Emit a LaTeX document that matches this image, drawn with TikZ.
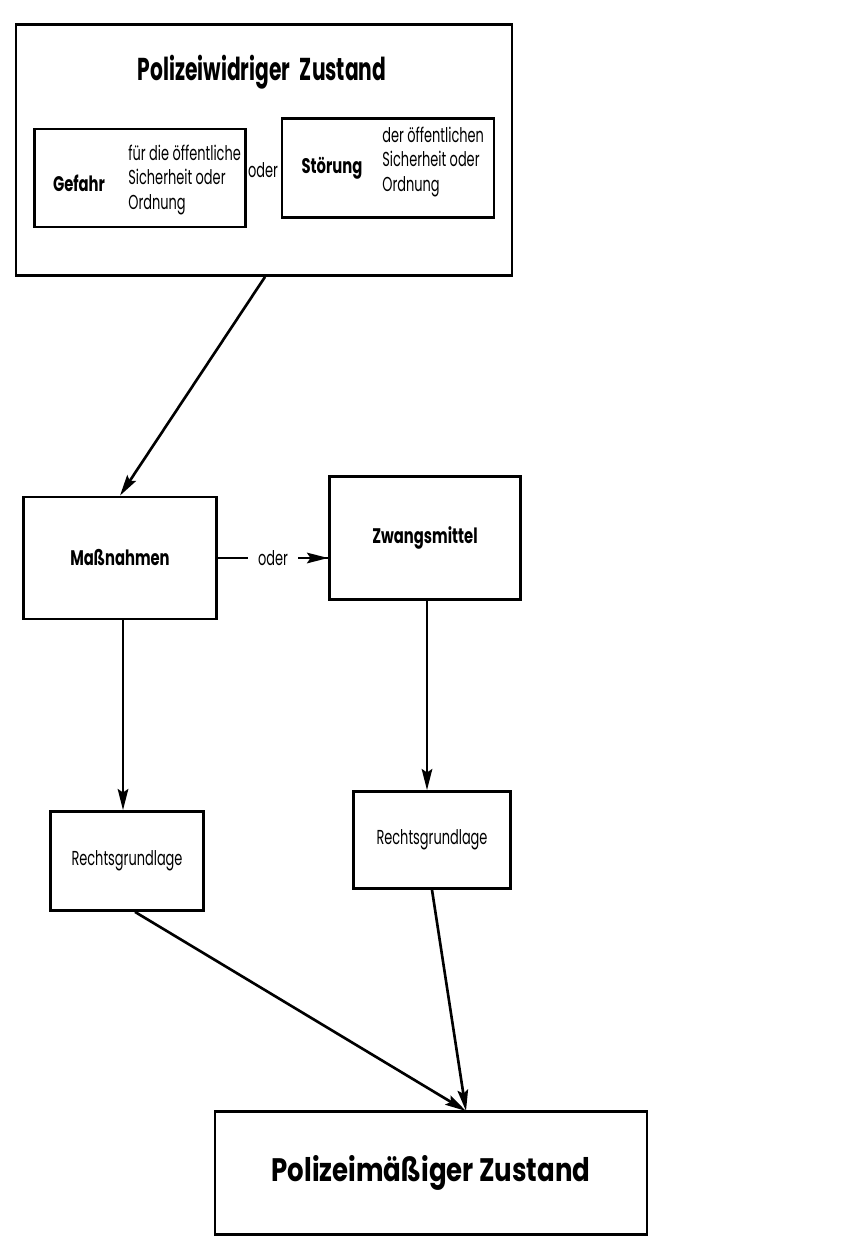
\documentclass[tikz,border=0pt]{standalone}
\usepackage{fontspec}
\setmainfont{Poppins}[FakeStretch=0.8]
\newfontfamily\fReg{Poppins}[FakeStretch=0.64]
\newfontfamily\fMid{Poppins}[FakeStretch=0.7]
\newfontfamily\fHead{Poppins}[FakeStretch=0.64]
\usetikzlibrary{arrows.meta}
\begin{document}
\begin{tikzpicture}[x=0.02cm,y=-0.02cm,
  frame/.style={draw,line width=1.6pt,inner sep=0pt},
  conn/.style={line width=1.5pt,-{Stealth[length=12pt,width=6pt,inset=2pt]}},
  head/.style={font=\fHead\bfseries\fontsize{18}{22}\selectfont},
  big/.style={font=\bfseries\fontsize{18.5}{22}\selectfont},
  mid/.style={font=\fMid\bfseries\fontsize{12}{14}\selectfont},
  reg/.style={font=\fReg\fontsize{11.5}{13.5}\selectfont},
  small/.style={font=\fReg\fontsize{11.5}{13.8}\selectfont,align=left,inner sep=0pt}]
\useasboundingbox (0,0) rectangle (854,1245);
% upper frame with its two alternatives
\node[frame,minimum width=9.92cm,minimum height=5.02cm] (zust) at (264,150) {};
\node[head] (ztitle) at (262,72) {Polizeiwidriger\, Zustand};
\node[frame,minimum width=4.22cm,minimum height=1.96cm] (gef) at (140,178) {};
\node[mid] (geft) at (79,183) {Gefahr};
\node[small,anchor=west] (gefs) at (128,180) {für die öffentliche\\Sicherheit oder\\Ordnung};
\node[reg] (or1) at (263,170) {oder};
\node[frame,minimum width=4.24cm,minimum height=1.98cm] (stoe) at (388,168) {};
\node[mid] (stoet) at (332,168) {Störung};
\node[small,anchor=west] (stoes) at (382,162) {der öffentlichen\\Sicherheit oder\\Ordnung};
% measures
\node[frame,minimum width=3.86cm,minimum height=2.44cm,mid] (mass) at (120,558) {Maßnahmen};
\node[frame,minimum width=3.82cm,minimum height=2.46cm,mid] (zwang) at (425,538) {Zwangsmittel};
% legal bases
\node[frame,minimum width=3.06cm,minimum height=1.98cm,reg] (rg1) at (127,861) {Rechtsgrundlage};
\node[frame,minimum width=3.14cm,minimum height=1.94cm,reg] (rg2) at (432,840) {Rechtsgrundlage};
% result
\node[frame,minimum width=8.64cm,minimum height=2.46cm,big] (pz) at (431,1173) {Polizeimäßiger Zustand};
\coordinate (meet) at (466,1111);
% connectors
\draw[conn] (zust.south) ++(1,0) -- (mass.north);
\draw[line width=1.5pt] (mass.east) -- node[fill=white,reg,inner xsep=6pt] (or2) {oder} (zwang.west |- mass.east);
\draw[conn] (or2.east) -- (zwang.west |- mass.east);
\draw[conn] (mass.south -| rg1.north) ++(-4,0) -- (rg1.north -| 123,0);
\draw[conn] (zwang.south) ++(2,0) -- (rg2.north -| 427,0);
\draw[conn] (rg1.south) ++(8,0) -- (meet);
\draw[conn] (rg2.south) -- (meet);
\end{tikzpicture}
\end{document}
